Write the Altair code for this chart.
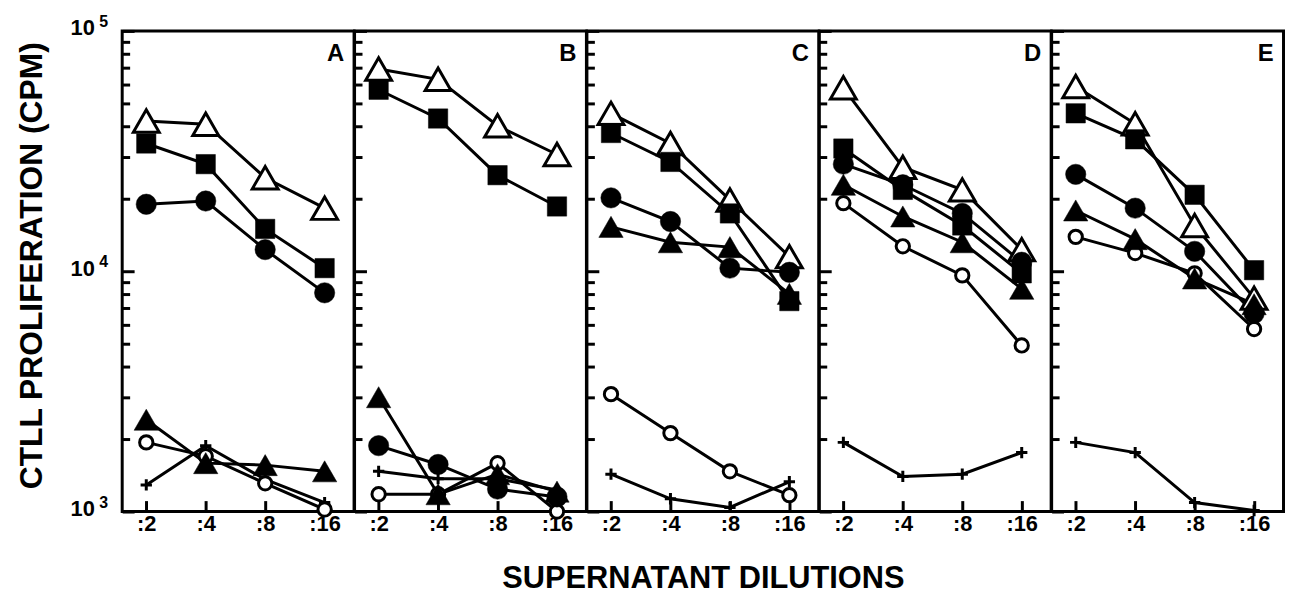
import altair as alt
import pandas as pd

# ---------------- data ----------------
dilutions = [":2", ":4", ":8", ":16"]
panels = ["A", "B", "C", "D", "E"]

open_triangle = {
    "A": [42200, 40900, 24500, 18300],
    "B": [69400, 62900, 40300, 30600],
    "C": [45400, 34000, 19800, 11500],
    "D": [58000, 27100, 21800, 12300],
    "E": [58700, 41100, 15500, 7730],
}
filled_square = {
    "A": [34000, 27900, 15000, 10300],
    "B": [56900, 43200, 25100, 18600],
    "C": [37600, 28500, 17400, 7510],
    "D": [32400, 21800, 15500, 9800],
    "E": [45400, 35400, 20800, 10100],
}
filled_circle = {
    "A": [19000, 19600, 12300, 8130],
    "B": [1880, 1570, 1240, 1150],
    "C": [20200, 16100, 10300, 9900],
    "D": [27900, 22900, 17400, 10900],
    "E": [25300, 18300, 12100, 6670],
}
filled_triangle = {
    "A": [2410, 1590, 1560, 1470],
    "B": [2990, 1180, 1430, 1210],
    "C": [15300, 13200, 12600, 8050],
    "D": [22900, 16900, 13200, 8450],
    "E": [17900, 13600, 9330, 7290],
}
open_circle = {
    "A": [1940, 1700, 1310, 1020],
    "B": [1180, 1180, 1590, 1000],
    "C": [3080, 2120, 1470, 1170],
    "D": [19200, 12700, 9610, 4910],
    "E": [13900, 11900, 9800, 5750],
}
plus = {
    "A": [1290, 1880, 1360, 1090],
    "B": [1470, 1370, 1370, 1230],
    "C": [1430, 1130, 1040, 1330],
    "D": [1940, 1400, 1430, 1760],
    "E": [1940, 1760, 1090, 1010],
}

y_major = [1000, 10000, 100000]
y_major_exponent = ["3", "4", "5"]
y_minor = [2000, 3000, 4000, 5000, 6000, 7000, 8000, 9000,
           20000, 30000, 40000, 50000, 60000, 70000, 80000, 90000]

y_title = "CTLL PROLIFERATION (CPM)"
x_title = "SUPERNATANT DILUTIONS"

series_data = [
    ("open triangle", open_triangle),
    ("filled square", filled_square),
    ("filled circle", filled_circle),
    ("filled triangle", filled_triangle),
    ("open circle", open_circle),
    ("plus", plus),
]

rows = []
for name, table in series_data:
    for p in panels:
        for i, (d, v) in enumerate(zip(dilutions, table[p])):
            rows.append({"panel": p, "series": name, "dil": d, "idx": i, "cpm": v})
df = pd.DataFrame(rows)

# ---------------- styling ----------------
W, H = 233.5, 484
FONT = "Liberation Sans"
LW = 3

yscale = alt.Scale(type="log", domain=[1000, 100000], nice=False)
xscale = alt.Scale(type="point", domain=dilutions, padding=0.45, align=0.45)

# drawing order: later on top
marker_styles = [
    ("plus", dict(shape="M-1,0L1,0M0,-1L0,1", size=130, filled=False,
                  color="black", strokeWidth=LW)),
    ("open circle", dict(shape="circle", size=180, filled=True, fill="white",
                         stroke="black", strokeWidth=LW)),
    ("open triangle", dict(shape="triangle-up", size=680, filled=True, fill="white",
                           stroke="black", strokeWidth=LW)),
    ("filled square", dict(shape="square", size=380, filled=True, fill="black",
                           stroke="black", strokeWidth=0.5)),
    ("filled circle", dict(shape="circle", size=420, filled=True, fill="black",
                           stroke="black", strokeWidth=0.5)),
    ("filled triangle", dict(shape="triangle-up", size=600, filled=True, fill="black",
                             stroke="black", strokeWidth=0.5)),
]


def make_panel(p):
    first = p == "A"
    middle = p == "C"
    base = alt.Chart(df).transform_filter(alt.datum.panel == p)

    xaxis_kw = dict(orient="bottom", offset=-11, tickSize=11, tickWidth=LW,
                    tickColor="black", domain=False, grid=False, labelAngle=0,
                    labelFont=FONT, labelFontSize=22, labelFontWeight="bold",
                    labelColor="black", labelPadding=2)
    if middle:
        xaxis_kw.update(title=x_title, titleFont=FONT, titleFontSize=31,
                        titleFontWeight="bold", titleColor="black",
                        titleY=79, titleBaseline="middle")
    xaxis = alt.Axis(**xaxis_kw)

    def xenc():
        kw = dict(scale=xscale, sort=dilutions, axis=xaxis)
        if not middle:
            kw["title"] = None
        return alt.X("dil:N", **kw)

    major_kw = dict(orient="left", values=y_major, offset=-12, tickSize=12,
                    tickWidth=LW, tickColor="black", domain=False, grid=False)
    if first:
        major_kw.update(labelExpr="'10'", labelFont=FONT, labelFontSize=22,
                        labelFontWeight="bold", labelColor="black",
                        labelPadding=28, labelOffset=-3,
                        title=y_title, titleFont=FONT, titleFontSize=32,
                        titleFontWeight="bold", titleColor="black",
                        titleAngle=270, titleX=-103, titleY=236,
                        titleBaseline="middle", titleAlign="center")
    else:
        major_kw.update(labels=False)
    yenc_kw = dict(scale=yscale, axis=alt.Axis(**major_kw))
    if not first:
        yenc_kw["title"] = None

    lines = base.mark_line(color="black", strokeWidth=LW).encode(
        x=xenc(),
        y=alt.Y("cpm:Q", **yenc_kw),
        detail="series:N",
        order="idx:Q",
    )

    layers = [lines]
    for k, (name, style) in enumerate(marker_styles):
        if k == 0:
            yaxis = alt.Axis(orient="left", values=y_minor, offset=-7.5, tickSize=7.5,
                             tickWidth=LW, tickColor="black", domain=False,
                             grid=False, labels=False)
        else:
            yaxis = None
        pts = base.transform_filter(alt.datum.series == name).mark_point(
            opacity=1, **style
        ).encode(
            x=xenc(),
            y=alt.Y("cpm:Q", scale=yscale, axis=yaxis, title=None),
        )
        layers.append(pts)

    letter = alt.Chart(pd.DataFrame({"panel": [p]})).mark_text(
        align="right", baseline="alphabetic", fontSize=24, font=FONT,
        fontWeight="bold", color="black"
    ).encode(x=alt.value(W - 10), y=alt.value(30), text="panel:N")
    layers.append(letter)

    if first:
        exp_df = pd.DataFrame({"v": y_major, "e": y_major_exponent})
        exps = alt.Chart(exp_df).mark_text(
            align="left", baseline="middle", dy=-9, fontSize=16, font=FONT,
            fontWeight="bold", color="black"
        ).encode(
            x=alt.value(-23),
            y=alt.Y("v:Q", scale=yscale, axis=None),
            text="e:N",
        )
        layers.append(exps)

    return alt.layer(*layers).resolve_axis(y="independent").properties(width=W, height=H)


chart = alt.hconcat(*[make_panel(p) for p in panels], spacing=0, bounds="flush").properties(
    padding={"left": 6, "top": 2, "right": 0, "bottom": 2}
).configure_view(stroke="black", strokeWidth=3)

chart.save("out.html", embed_options={"renderer": "svg", "actions": False})
